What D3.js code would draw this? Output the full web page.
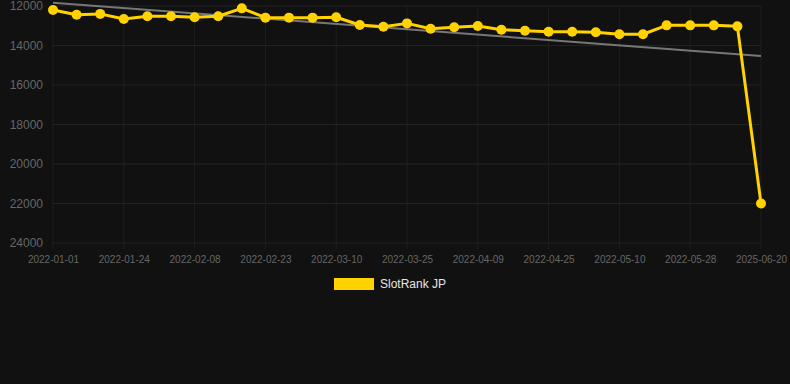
<!DOCTYPE html>
<html>
<head>
<meta charset="utf-8">
<script src="https://cdn.jsdelivr.net/npm/d3@7"></script>
<style>
  html, body { margin: 0; padding: 0; background: #111111; }
  svg { display: block; }
</style>
</head>
<body>
<div class="chart"></div>
<script>
// category labels (every third one is shown on the axis)
const dates = [
  "2022-01-01", "2022-01-09", "2022-01-16", "2022-01-24", "2022-01-29", "2022-02-03",
  "2022-02-08", "2022-02-13", "2022-02-18", "2022-02-23", "2022-02-28", "2022-03-05",
  "2022-03-10", "2022-03-15", "2022-03-20", "2022-03-25", "2022-03-30", "2022-04-04",
  "2022-04-09", "2022-04-14", "2022-04-20", "2022-04-25", "2022-04-30", "2022-05-05",
  "2022-05-10", "2022-05-16", "2022-05-22", "2022-05-28", "2022-06-03", "2022-06-09",
  "2025-06-20"
];

const ranks = [
  12200, 12440, 12400, 12660, 12520, 12520, 12570, 12520, 12120, 12590, 12590, 12590,
  12570, 12960, 13050, 12880, 13150, 13080, 13010, 13200, 13250, 13300, 13300, 13330,
  13430, 13430, 12980, 12980, 12980, 13030, 22000
];

// trend line start / end values
const trend = [11830, 14530];

const yTicks = [12000, 14000, 16000, 18000, 20000, 22000, 24000];
const seriesName = "SlotRank JP";

const w = 790;
const h = 384;
const margin = { top: 6, right: 29, bottom: 141, left: 53 };
const graphWidth = w - margin.left - margin.right;
const graphHeight = h - margin.top - margin.bottom;

const svg = d3.select(".chart")
  .append("svg")
  .attr("width", w)
  .attr("height", h)
  .style("font-family", "Liberation Sans, Arial, sans-serif");

svg.append("rect").attr("width", w).attr("height", h).attr("fill", "#111111");

// scales
const x = d3.scalePoint()
  .domain(dates)
  .range([0, graphWidth]);

const y = d3.scaleLinear()
  .domain([12000, 24000])
  .range([0, graphHeight]);

const graph = svg.append("g")
  .attr("transform", `translate(${margin.left}, ${margin.top})`);

// grid
const shown = dates.filter((d, i) => i % 3 === 0);

graph.append("g")
  .selectAll("line")
  .data(yTicks)
  .join("line")
  .attr("x1", 0)
  .attr("x2", graphWidth)
  .attr("y1", d => y(d))
  .attr("y2", d => y(d))
  .attr("stroke", "#222")
  .attr("stroke-width", 1);

graph.append("g")
  .selectAll("line")
  .data(shown)
  .join("line")
  .attr("x1", d => x(d))
  .attr("x2", d => x(d))
  .attr("y1", 0)
  .attr("y2", graphHeight + 6)
  .attr("stroke", "#1e1e1e")
  .attr("stroke-width", 1);

// axes
const yAxis = d3.axisLeft(y).tickValues(yTicks).tickSize(0).tickPadding(10).tickFormat(d => d);
const yAxisGroup = graph.append("g").call(yAxis);
yAxisGroup.select(".domain").remove();
yAxisGroup.selectAll("text")
  .attr("fill", "#666")
  .style("font-size", "12px")
  .style("font-family", "Liberation Sans, Arial, sans-serif");

const xAxis = d3.axisBottom(x).tickValues(shown).tickSize(0).tickPadding(13);
const xAxisGroup = graph.append("g")
  .attr("transform", `translate(0, ${graphHeight})`)
  .call(xAxis);
xAxisGroup.select(".domain").remove();
xAxisGroup.selectAll("text")
  .attr("fill", "#666")
  .style("font-size", "10px")
  .style("font-family", "Liberation Sans, Arial, sans-serif");

// trend line
graph.append("line")
  .attr("x1", x(dates[0]))
  .attr("x2", x(dates[dates.length - 1]))
  .attr("y1", y(trend[0]))
  .attr("y2", y(trend[1]))
  .attr("stroke", "#777")
  .attr("stroke-width", 2);

// series line
const line = d3.line()
  .x((d, i) => x(dates[i]))
  .y(d => y(d));

graph.append("path")
  .datum(ranks)
  .attr("d", line)
  .attr("fill", "none")
  .attr("stroke", "#ffd200")
  .attr("stroke-width", 3)
  .attr("stroke-linejoin", "round");

graph.selectAll("circle")
  .data(ranks)
  .join("circle")
  .attr("cx", (d, i) => x(dates[i]))
  .attr("cy", d => y(d))
  .attr("r", 5)
  .attr("fill", "#ffd200");

// legend
const legend = svg.append("g").attr("transform", "translate(334, 278)");
legend.append("rect")
  .attr("width", 40)
  .attr("height", 12)
  .attr("fill", "#ffd200");
legend.append("text")
  .attr("x", 46)
  .attr("y", 10)
  .attr("fill", "#e6e6e6")
  .style("font-size", "12px")
  .text(seriesName);
</script>
</body>
</html>
